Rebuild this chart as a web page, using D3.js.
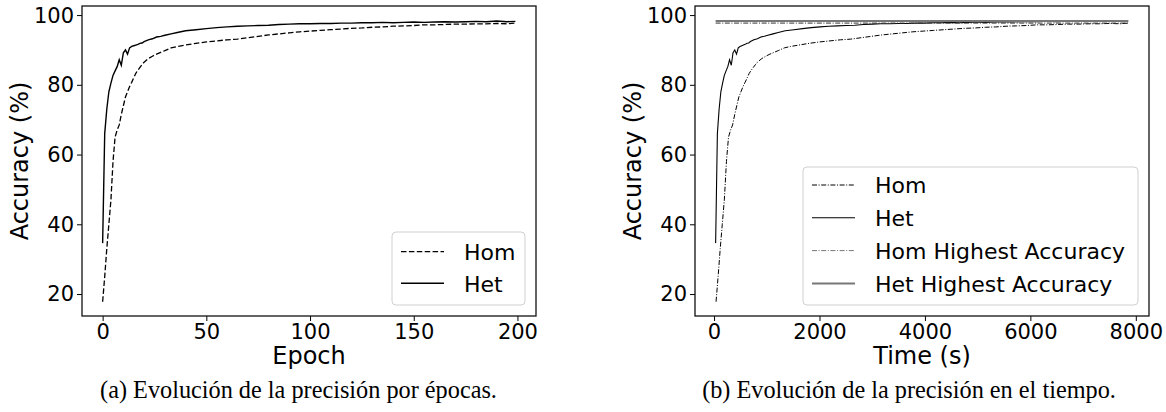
<!DOCTYPE html>
<html lang="es">
  <head>
    <meta charset="UTF-8" />
    <title>Accuracy Hom vs Het</title>
    <script src="https://d3js.org/d3.v7.min.js"></script>
    <style>
      html,
      body {
        margin: 0;
        padding: 0;
        background: #fff;
      }
      svg {
        display: block;
      }
      text {
        font-family: "DejaVu Sans", sans-serif;
        fill: #000;
      }
      .caption {
        font-family: "Liberation Serif", serif;
      }
    </style>
  </head>
  <body>
    <svg id="chart" width="1166" height="412"></svg>
    <script>
      // epochs sampled from the curves (dense at the start, sparser later)
      const epochs = [
        0, 1, 2, 3, 4, 5, 6, 7, 8, 9, 10, 11, 12, 13, 14, 15, 16, 17, 18, 19,
        20, 22, 24, 26, 28, 30, 33, 36, 40, 45, 50, 55, 60, 65, 70, 75, 80, 85,
        90, 95, 100, 105, 110, 115, 120, 125, 130, 135, 140, 145, 150, 155,
        160, 165, 170, 175, 180, 185, 190, 195, 199,
      ];
      const homAcc = [
        17.8, 25, 33, 40, 47, 58, 65, 67, 68.5, 71.5, 74, 76.5, 78, 79.5,
        80.7, 82, 83.3, 84.2, 85, 85.8, 86.5, 87.5, 88.2, 88.8, 89.3, 89.8,
        90.6, 91, 91.4, 91.9, 92.3, 92.6, 92.9, 93.1, 93.5, 93.9, 94.3, 94.6,
        94.9, 95.2, 95.4, 95.6, 95.8, 96.0, 96.2, 96.3, 96.5, 96.6, 96.8,
        96.9, 97.0, 97.2, 97.2, 97.3, 97.4, 97.4, 97.5, 97.5, 97.6, 97.5,
        97.7,
      ];
      const hetAcc = [
        34.6, 66, 73, 78, 80.5, 82.7, 84, 85.2, 87.2, 85.6, 89.2, 90, 88.8,
        90.6, 91, 91.2, 91.4, 91.6, 91.9, 92.0, 92.4, 92.9, 93.2, 93.7, 93.9,
        94.2, 94.6, 95.0, 95.5, 95.8, 96.1, 96.4, 96.6, 96.8, 96.9, 97.0, 97.1,
        97.3, 97.4, 97.5, 97.5, 97.6, 97.6, 97.7, 97.7, 97.8, 97.8, 97.9, 97.8,
        97.9, 98.0, 97.9, 98.0, 98.1, 98.0, 98.1, 98.2, 98.1, 98.3, 98.1, 98.2,
      ];
      // elapsed time (s) at each sampled epoch
      const homTime = [
        38, 77, 117, 156, 195, 235, 274, 313, 352, 392, 431, 470, 510, 549,
        588, 628, 667, 706, 745, 785, 824, 903, 981, 1060, 1138, 1217, 1335,
        1453, 1610, 1807, 2003, 2200, 2396, 2593, 2789, 2986, 3182, 3379, 3575,
        3772, 3968, 4165, 4361, 4558, 4754, 4951, 5147, 5344, 5540, 5737, 5933,
        6130, 6326, 6523, 6719, 6916, 7112, 7309, 7505, 7702, 7859,
      ];
      const hetTime = [
        30, 63, 96, 129, 162, 195, 228, 261, 294, 327, 360, 393, 426, 459, 492,
        525, 558, 591, 624, 657, 690, 756, 822, 888, 954, 1020, 1119, 1218,
        1350, 1515, 1680, 1845, 2010, 2175, 2340, 2505, 2670, 2835, 3000, 3165,
        3330, 3495, 3660, 3825, 3990, 4155, 4320, 4485, 4650, 4815, 4980, 5145,
        5310, 5475, 5640, 5805, 5970, 6135, 6300, 6465, 6597,
      ];

      const yTicks = [20, 40, 60, 80, 100];
      const epochTicks = [0, 50, 100, 150, 200];
      const timeTicks = [0, 2000, 4000, 6000, 8000];
      const yDomain = [13.7, 102.6];

      const svg = d3.select("#chart");

      // padded domain like matplotlib (5% margins)
      function padded(lo, hi) {
        const m = (hi - lo) * 0.05;
        return [lo - m, hi + m];
      }

      function panel(box, xDomain, xTicks, xLabel) {
        const x = d3.scaleLinear().domain(xDomain).range([box.left, box.right]);
        const y = d3.scaleLinear().domain(yDomain).range([box.bottom, box.top]);
        const g = svg.append("g");

        const xAxis = g
          .append("g")
          .attr("transform", `translate(0,${box.bottom})`)
          .call(
            d3
              .axisBottom(x)
              .tickValues(xTicks)
              .tickFormat(d3.format("d"))
              .tickSize(5)
              .tickPadding(3)
          );
        const yAxis = g
          .append("g")
          .attr("transform", `translate(${box.left},0)`)
          .call(
            d3
              .axisLeft(y)
              .tickValues(yTicks)
              .tickFormat(d3.format("d"))
              .tickSize(5)
              .tickPadding(3)
          );
        [xAxis, yAxis].forEach((a) => {
          a.select(".domain").remove();
          a.selectAll("line").attr("stroke", "#000").attr("stroke-width", 1);
          a.selectAll("text")
            .attr("font-size", 21)
            .attr("font-family", "DejaVu Sans")
            .attr("fill", "#000");
        });
        yAxis.selectAll("text").attr("dy", "0.33em");

        g.append("text")
          .attr("x", (box.left + box.right) / 2)
          .attr("y", 364)
          .attr("text-anchor", "middle")
          .attr("font-size", 24)
          .text(xLabel);

        g.append("text")
          .attr(
            "transform",
            `translate(${box.left - 54},${(box.top + box.bottom) / 2}) rotate(-90)`
          )
          .attr("text-anchor", "middle")
          .attr("font-size", 24)
          .text("Accuracy (%)");

        return { g, x, y };
      }

      function frame(g, box) {
        g.append("rect")
          .attr("x", box.left)
          .attr("y", box.top)
          .attr("width", box.right - box.left)
          .attr("height", box.bottom - box.top)
          .attr("fill", "none")
          .attr("stroke", "#111")
          .attr("stroke-width", 1.3);
      }

      function legend(g, box, items) {
        g.append("rect")
          .attr("x", box.x)
          .attr("y", box.y)
          .attr("width", box.w)
          .attr("height", box.h)
          .attr("rx", 4)
          .attr("fill", "#fff")
          .attr("fill-opacity", 0.8)
          .attr("stroke", "#d0d0d0")
          .attr("stroke-width", 1);
        items.forEach((it, i) => {
          const ly = box.firstY + i * box.step;
          g.append("line")
            .attr("x1", box.x + 9)
            .attr("x2", box.x + 52)
            .attr("y1", ly)
            .attr("y2", ly)
            .attr("stroke", it.color)
            .attr("stroke-width", it.width)
            .attr("stroke-dasharray", it.dash);
          g.append("text")
            .attr("x", box.x + 72)
            .attr("y", ly + 8.3)
            .attr("font-size", 22)
            .text(it.label);
        });
      }

      // ---- (a) accuracy per epoch
      const boxA = { left: 82, right: 536, top: 6, bottom: 316 };
      const A = panel(
        boxA,
        padded(d3.min(epochs), d3.max(epochs)),
        epochTicks,
        "Epoch"
      );
      const lineA = (vals) =>
        d3
          .line()
          .x((d, i) => A.x(epochs[i]))
          .y((d) => A.y(d))(vals);

      A.g.append("path")
        .attr("d", lineA(homAcc))
        .attr("fill", "none")
        .attr("stroke", "#000")
        .attr("stroke-width", 1.3)
        .attr("stroke-dasharray", "5.5,2.4");
      A.g.append("path")
        .attr("d", lineA(hetAcc))
        .attr("fill", "none")
        .attr("stroke", "#000")
        .attr("stroke-width", 1.4);
      frame(A.g, boxA);
      legend(A.g, { x: 392, y: 232, w: 133, h: 73, firstY: 251.7, step: 31.6 }, [
        { label: "Hom", color: "#000", width: 1.3, dash: "5.5,2.4" },
        { label: "Het", color: "#000", width: 1.4, dash: null },
      ]);

      // ---- (b) accuracy over time
      const boxB = { left: 695, right: 1149, top: 6, bottom: 316 };
      const tMin = Math.min(d3.min(homTime), d3.min(hetTime));
      const tMax = Math.max(d3.max(homTime), d3.max(hetTime));
      const B = panel(boxB, padded(tMin, tMax), timeTicks, "Time (s)");
      const lineB = (times, vals) =>
        d3
          .line()
          .x((d, i) => B.x(times[i]))
          .y((d) => B.y(d))(vals);

      const dashDot = "5,1.6,1,1.6";
      B.g.append("path")
        .attr("d", lineB(homTime, homAcc))
        .attr("fill", "none")
        .attr("stroke", "#000")
        .attr("stroke-width", 1)
        .attr("stroke-dasharray", dashDot);
      B.g.append("path")
        .attr("d", lineB(hetTime, hetAcc))
        .attr("fill", "none")
        .attr("stroke", "#000")
        .attr("stroke-width", 1.1);

      const homBest = d3.max(homAcc);
      const hetBest = d3.max(hetAcc);
      B.g.append("line")
        .attr("x1", B.x(tMin))
        .attr("x2", B.x(tMax))
        .attr("y1", B.y(hetBest))
        .attr("y2", B.y(hetBest))
        .attr("stroke", "#777")
        .attr("stroke-width", 2);
      B.g.append("line")
        .attr("x1", B.x(tMin))
        .attr("x2", B.x(tMax))
        .attr("y1", B.y(homBest))
        .attr("y2", B.y(homBest))
        .attr("stroke", "#333")
        .attr("stroke-width", 1)
        .attr("stroke-dasharray", dashDot);
      frame(B.g, boxB);
      legend(B.g, { x: 803, y: 167, w: 335, h: 138, firstY: 185, step: 32.8 }, [
        { label: "Hom", color: "#000", width: 1, dash: dashDot },
        { label: "Het", color: "#000", width: 1.1, dash: null },
        { label: "Hom Highest Accuracy", color: "#777", width: 1, dash: dashDot },
        { label: "Het Highest Accuracy", color: "#777", width: 2, dash: null },
      ]);

      // ---- captions (serif, sized so that (a) spans ~397px)
      const captions = [
        { text: "(a) Evolución de la precisión por épocas.", cx: 298.5 },
        { text: "(b) Evolución de la precisión en el tiempo.", cx: 909 },
      ];
      const capNodes = captions.map((c) =>
        svg
          .append("text")
          .attr("class", "caption")
          .attr("x", c.cx)
          .attr("y", 398)
          .attr("text-anchor", "middle")
          .attr("font-size", 18)
          .text(c.text)
      );
      const w0 = capNodes[0].node().getComputedTextLength();
      const capSize = (18 * 397) / w0;
      capNodes.forEach((n) => n.attr("font-size", capSize));
    </script>
  </body>
</html>
